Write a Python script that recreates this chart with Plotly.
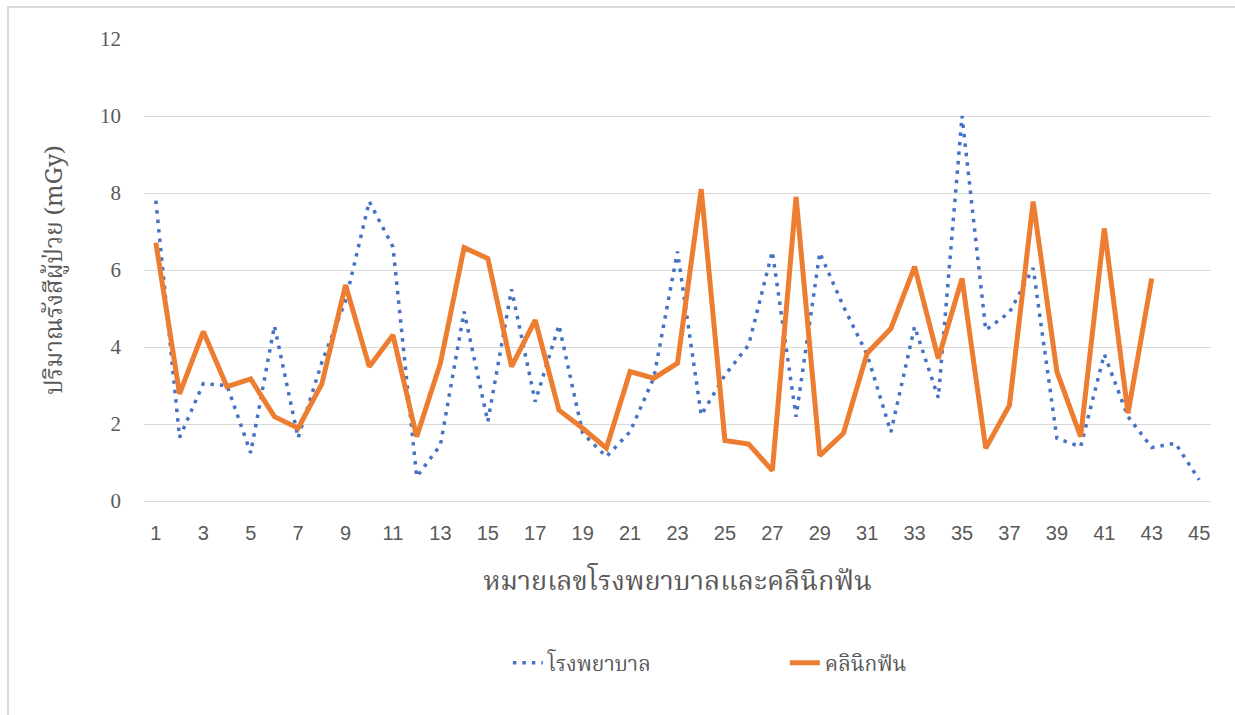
import plotly.graph_objects as go

# Patient dose per facility (mGy)
facility_no = list(range(1, 46))
hospital = [7.8, 1.65, 3.05, 3.0, 1.25, 4.55, 1.64, 3.6, 5.2, 7.78,
            6.6, 0.63, 1.45, 4.92, 2.06, 5.5, 2.58, 4.57, 1.76, 1.15,
            1.8, 3.2, 6.48, 2.23, 3.27, 4.05, 6.48, 2.19, 6.45, 5.05,
            3.8, 1.79, 4.53, 2.68, 10.0, 4.44, 4.9, 6.05, 1.63, 1.41,
            3.81, 2.19, 1.39, 1.5, 0.55]
dental_clinic = [6.71, 2.78, 4.4, 2.97, 3.17, 2.19, 1.89, 3.04, 5.61, 3.49,
                 4.31, 1.67, 3.58, 6.58, 6.3, 3.49, 4.7, 2.36, 1.89, 1.37,
                 3.36, 3.19, 3.58, 8.1, 1.57, 1.48, 0.79, 7.9, 1.18, 1.76,
                 3.84, 4.48, 6.09, 3.7, 5.78, 1.37, 2.49, 7.78, 3.36, 1.67,
                 7.08, 2.28, 5.78]
x_ticks = list(range(1, 46, 2))
y_ticks = [0, 2, 4, 6, 8, 10, 12]

thai_font = "Noto Serif Thai, Noto Sans Thai, Tlwg Typo, Loma, serif"

fig = go.Figure()
fig.add_trace(go.Scatter(
    x=facility_no[:len(hospital)], y=hospital, mode="lines",
    name="โรงพยาบาล",
    line=dict(color="#4472C4", width=3.5, dash="3.5px,6px"),
))
fig.add_trace(go.Scatter(
    x=facility_no[:len(dental_clinic)], y=dental_clinic, mode="lines",
    name="คลินิกฟัน",
    line=dict(color="#ED7D31", width=5),
))

fig.update_layout(
    width=1235, height=715,
    margin=dict(l=144, r=24, t=39, b=214),
    paper_bgcolor="white", plot_bgcolor="white",
    showlegend=True,
    legend=dict(
        orientation="h", x=0.341, xanchor="left",
        y=-0.351, yanchor="middle",
        font=dict(family=thai_font, size=21, color="#595959"),
        entrywidth=232, entrywidthmode="pixels",
        bgcolor="rgba(0,0,0,0)",
    ),
    shapes=[dict(
        type="rect", xref="paper", yref="paper",
        x0=-136 / 1067, x1=1.03, y0=-0.47, y1=1 + 32 / 462,
        line=dict(color="#d9d9d9", width=2), layer="below",
    )],
)

fig.update_xaxes(
    range=[0.5, 45.5], tickmode="array", tickvals=x_ticks,
    ticktext=[str(v) for v in x_ticks],
    showgrid=False, zeroline=False, showline=True,
    linecolor="#d9d9d9", linewidth=1,
    ticks="", ticklabelstandoff=14,
    tickfont=dict(family="Liberation Sans, Arial, sans-serif", size=20, color="#595959"),
    title=dict(text="หมายเลขโรงพยาบาลและคลินิกฟัน",
               font=dict(family=thai_font, size=27, color="#595959"),
               standoff=28),
)
fig.update_yaxes(
    range=[0, 12], tickmode="array", tickvals=y_ticks,
    showgrid=True, gridcolor="#d9d9d9", gridwidth=1,
    zeroline=False, showline=False,
    ticks="", ticklabelstandoff=22,
    tickfont=dict(family="Liberation Serif, DejaVu Serif, serif", size=21, color="#595959"),
    title=dict(text="ปริมาณรังสีผู้ป่วย (mGy)",
               font=dict(family=thai_font, size=24, color="#595959"),
               standoff=30),
)

fig.write_html("out.html")
